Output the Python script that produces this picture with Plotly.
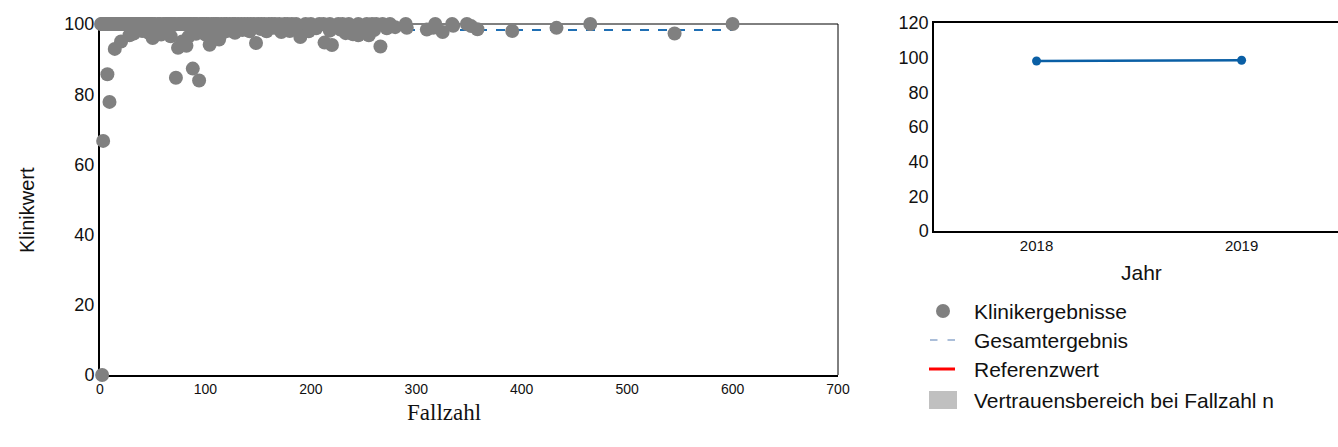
import plotly.graph_objects as go

# ---- Data: Klinikergebnisse (Fallzahl, Klinikwert) ----
fallzahl_100 = [1, 2, 3, 4, 5, 6, 8, 10, 11, 12, 13, 15, 16, 17, 18, 19, 21, 22, 23, 24, 25, 26, 27,
                29, 30, 31, 33, 34, 35, 37, 38, 40, 41, 42, 44, 45, 47, 48, 50, 52, 55, 57, 60, 62,
                63, 65, 66, 68, 70, 71, 74, 76, 77, 79, 80, 81, 83, 85, 86, 89, 90, 92, 95, 97, 99,
                101, 103, 106, 108, 110, 112, 115, 118, 120, 123, 126, 128, 131, 134, 137, 140, 143,
                146, 150, 153, 156, 160, 163, 166, 170, 175, 178, 182, 186, 195, 200, 208, 212, 218,
                226, 230, 236, 245, 253, 258, 262, 268, 275, 290, 318, 334, 348, 465, 600]
klinikwert_100 = [100.0] * len(fallzahl_100)

fallzahl_other = [2, 3, 7, 9, 14, 20, 28, 32, 40, 46, 50, 55, 58, 64, 67, 72, 74, 78, 82, 84, 88,
                  91, 94, 96, 100, 104, 107, 113, 117, 122, 128, 135, 142, 148, 152, 158, 165, 172,
                  180, 186, 190, 198, 205, 213, 218, 220, 228, 233, 240, 245, 250, 255, 260, 266,
                  272, 280, 291, 310, 316, 325, 335, 352, 358, 391, 433, 545]
klinikwert_other = [0.0, 66.7, 85.7, 77.8, 92.9, 95.0, 96.8, 97.3, 98.0, 97.5, 96.0, 98.2, 97.0,
                    97.8, 96.5, 84.7, 93.2, 95.0, 93.8, 96.4, 87.3, 97.2, 83.9, 98.3, 97.0, 94.1,
                    96.9, 95.6, 97.6, 98.1, 97.5, 98.3, 97.9, 94.6, 98.6, 97.9, 98.9, 97.7, 98.0,
                    99.0, 96.3, 97.9, 98.8, 94.7, 98.1, 94.0, 98.4, 97.4, 97.1, 96.8, 98.0, 96.8,
                    98.3, 93.6, 98.8, 99.1, 98.9, 98.4, 98.9, 97.7, 99.5, 99.4, 98.5, 98.0, 98.9,
                    97.3]

fallzahl = fallzahl_100 + fallzahl_other
klinikwert = klinikwert_100 + klinikwert_other

# Gesamtergebnis
gesamt_x = [0, 600]
gesamt_wert = 98.3

# Zeitverlauf
jahre = [2018, 2019]
jahr_werte = [98.1, 98.5]

# Legend labels
legend_labels = ["Klinikergebnisse", "Gesamtergebnis", "Referenzwert",
                 "Vertrauensbereich bei Fallzahl n"]

W, H = 1338, 447
def px(x): return x / W
def py(y): return (H - y) / H

fig = go.Figure()

fig.add_trace(go.Scatter(
    x=gesamt_x, y=[gesamt_wert] * len(gesamt_x), mode="lines",
    line=dict(color="#1f6fb4", width=2, dash="dash"), showlegend=False,
    xaxis="x", yaxis="y", hoverinfo="skip"))

fig.add_trace(go.Scatter(
    x=fallzahl, y=klinikwert, mode="markers",
    marker=dict(color="#808080", size=14, line=dict(width=0)),
    name=legend_labels[0], cliponaxis=False, showlegend=False,
    xaxis="x", yaxis="y"))

fig.add_trace(go.Scatter(
    x=jahre, y=jahr_werte, mode="lines+markers",
    line=dict(color="#0a5fa5", width=2.5),
    marker=dict(color="#0a5fa5", size=9),
    showlegend=False, xaxis="x2", yaxis="y2", cliponaxis=False))

tickfont_y = dict(family="Liberation Sans, Arial", size=18, color="#111")
legend_font = dict(family="Liberation Sans, Arial", size=21, color="#111")

# manual legend
leg_y = [311, 340, 369, 400]
leg_text_x = 972
shapes = [
    dict(type="line", xref="x domain", yref="y domain", x0=0, x1=1, y0=1, y1=1,
         line=dict(color="black", width=1), layer="below"),
    dict(type="line", xref="x domain", yref="y domain", x0=1, x1=1, y0=0, y1=1,
         line=dict(color="black", width=1), layer="below"),
    # circle
    dict(type="circle", xref="paper", yref="paper",
         x0=px(936), x1=px(950), y0=py(leg_y[0] + 7), y1=py(leg_y[0] - 7),
         fillcolor="#808080", line=dict(width=0)),
    # dashes
    dict(type="line", xref="paper", yref="paper", x0=px(930), x1=px(937.5),
         y0=py(leg_y[1]), y1=py(leg_y[1]), line=dict(color="#8fa9cc", width=1.5)),
    dict(type="line", xref="paper", yref="paper", x0=px(947.5), x1=px(955),
         y0=py(leg_y[1]), y1=py(leg_y[1]), line=dict(color="#8fa9cc", width=1.5)),
    # red line
    dict(type="line", xref="paper", yref="paper", x0=px(929), x1=px(955),
         y0=py(leg_y[2]), y1=py(leg_y[2]), line=dict(color="#ff0000", width=3)),
    # grey square
    dict(type="rect", xref="paper", yref="paper", x0=px(929), x1=px(957),
         y0=py(leg_y[3] + 9), y1=py(leg_y[3] - 9), fillcolor="#c0c0c0", line=dict(width=0)),
]

annotations = [
    dict(text="Fallzahl", x=px(444), y=py(412), xref="paper", yref="paper",
         xanchor="center", yanchor="middle", showarrow=False,
         font=dict(family="Liberation Serif, Times New Roman", size=23, color="#111")),
    dict(text="Klinikwert", x=px(27), y=py(210), xref="paper", yref="paper",
         xanchor="center", yanchor="middle", showarrow=False, textangle=-90,
         font=dict(family="Liberation Sans, Arial", size=20, color="#111")),
    dict(text="Jahr", x=px(1141), y=py(272), xref="paper", yref="paper",
         xanchor="center", yanchor="middle", showarrow=False,
         font=dict(family="Liberation Sans, Arial", size=21, color="#111")),
]
for lab, yy in zip(legend_labels, leg_y):
    annotations.append(dict(text=lab, x=px(leg_text_x), y=py(yy), xref="paper", yref="paper",
                            xanchor="left", yanchor="middle", showarrow=False, font=legend_font))

fig.update_layout(
    width=W, height=H,
    margin=dict(l=0, r=0, t=0, b=0, pad=0, autoexpand=False),
    paper_bgcolor="white", plot_bgcolor="white",
    showlegend=False,
    xaxis=dict(domain=[px(100), px(838)], range=[0, 700], anchor="y",
               tickvals=[0, 100, 200, 300, 400, 500, 600, 700],
               showgrid=False, zeroline=False, showline=True, linecolor="black", linewidth=2,
               ticks="", tickfont=dict(family="Liberation Sans Narrow, Arial Narrow, Liberation Sans", size=14, color="#111"),
               layer="below traces", automargin=False),
    yaxis=dict(domain=[py(375), py(24)], range=[0, 100], anchor="x",
               tickvals=[0, 20, 40, 60, 80, 100],
               showgrid=False, zeroline=False, showline=True, linecolor="black", linewidth=2,
               ticks="", tickfont=tickfont_y, layer="below traces", automargin=False),
    xaxis2=dict(domain=[px(934), 1.0], range=[2017.5, 2019.47], anchor="y2",
                tickvals=jahre, ticktext=[str(j) for j in jahre],
                showgrid=False, zeroline=False, showline=True, mirror=True,
                linecolor="black", linewidth=1.5, ticks="", automargin=False,
                tickfont=dict(family="Liberation Sans, Arial", size=15, color="#111")),
    yaxis2=dict(domain=[py(231), py(23)], range=[0, 120], anchor="x2",
                tickvals=[0, 20, 40, 60, 80, 100, 120],
                showgrid=False, zeroline=False, showline=True, linecolor="black", linewidth=1.5,
                ticks="", tickfont=tickfont_y, automargin=False),
    shapes=shapes,
    annotations=annotations,
)

fig.write_html("out.html")
